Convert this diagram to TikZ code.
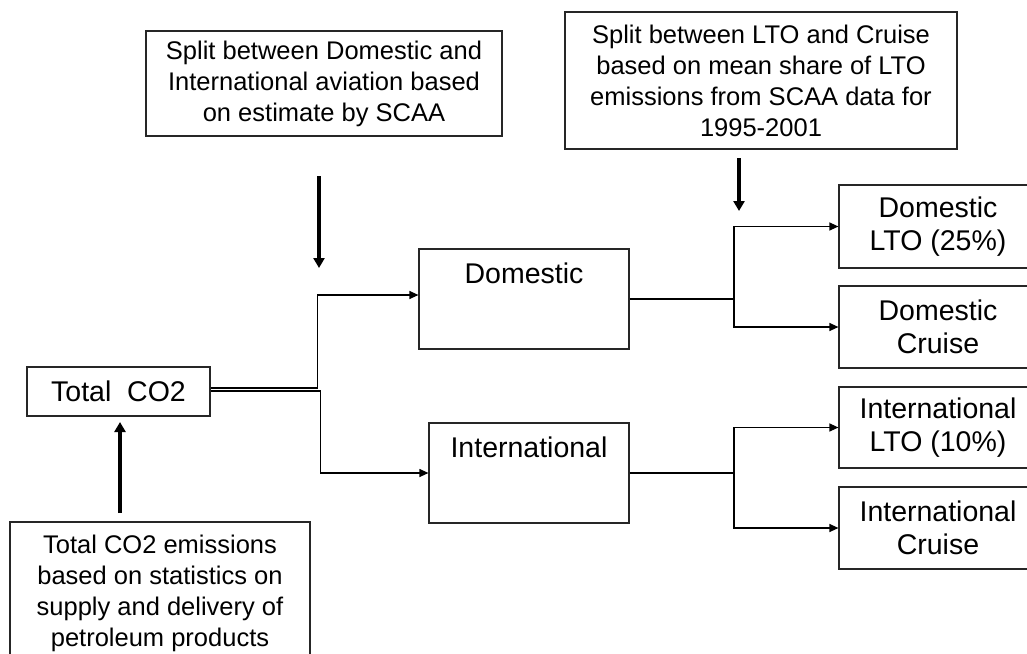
\documentclass[tikz,border=0pt]{standalone}
\usepackage{fontspec}
\setmainfont{Liberation Sans}
\usetikzlibrary{arrows.meta}
\begin{document}
\begin{tikzpicture}[x=1pt,y=-1pt,
  box/.style={draw=black!85, line width=1.2pt, rectangle, inner sep=0pt, align=center},
  notebox/.style={box, font=\fontsize{25.5}{31}\selectfont},
  mainbox/.style={box, font=\fontsize{28.5}{33}\selectfont},
  toplabel/.style={inner sep=0pt, font=\fontsize{28.5}{33}\selectfont},
  conn/.style={draw=black, line width=1.2pt},
  connarrow/.style={conn, -{Triangle[width=8pt,length=9pt]}},
  bigarrow/.style={draw=black, line width=3.3pt, -{Triangle[width=11pt,length=10pt]}}
]
\useasboundingbox (0,0) rectangle (1027,653);
\fill[white] (0,0) rectangle (1027,653);

% annotation boxes
\node[notebox, minimum width=356pt, minimum height=105pt] (note1) at (324,83.5)
  {Split between Domestic and\\International aviation based\\on estimate by SCAA};
\node[notebox, minimum width=392pt, minimum height=137pt] (note2) at (761,80.5)
  {Split between LTO and Cruise\\based on mean share of LTO\\emissions from SCAA data for\\1995-2001};
\node[notebox, minimum width=300pt, minimum height=143pt] (note3) at (160,593.5)
  {Total CO2 emissions\\based on statistics on\\supply and delivery of\\petroleum products};

% main boxes
\node[mainbox, minimum width=183pt, minimum height=49pt] (tot) at (118.5,391.5) {Total~~CO2};
\node[mainbox, minimum width=210pt, minimum height=100pt,
  label={[toplabel, name=domlbl, anchor=north, yshift=-14pt]north:Domestic}] (dom) at (524,299) {};
\node[mainbox, minimum width=200pt, minimum height=100pt,
  label={[toplabel, name=intlbl, anchor=north, yshift=-14pt]north:International}] (int) at (529,473) {};

\node[mainbox, minimum width=198pt, minimum height=83pt] (dlto) at (938,226.5) {Domestic\\LTO (25\%)};
\node[mainbox, minimum width=198pt, minimum height=82pt] (dcru) at (938,327) {Domestic\\Cruise};
\node[mainbox, minimum width=198pt, minimum height=81pt] (ilto) at (938,427.5) {International\\LTO (10\%)};
\node[mainbox, minimum width=198pt, minimum height=82pt] (icru) at (938,528) {International\\Cruise};

% split from Total CO2 (double line)
\draw[connarrow] ([yshift=3.5pt]tot.east) -- ++(107,0) |- ([yshift=4pt]dom.west);
\draw[connarrow] ([yshift=0.5pt]tot.east) -- ++(110,0) |- (int.west);

% branches to LTO / Cruise
\coordinate (dj) at (734,299);
\coordinate (ij) at (734,473);
\draw[conn] (dom.east) -- (dj);
\draw[connarrow] (dj) |- (dlto.west);
\draw[connarrow] (dj) |- (dcru.west);
\draw[conn] (int.east) -- (ij);
\draw[connarrow] (ij) |- (ilto.west);
\draw[connarrow] (ij) |- (icru.west);

% thick indicator arrows
\coordinate (a1s) at (319,176);
\coordinate (a1e) at (319,268);
\coordinate (a2s) at (739,158);
\coordinate (a2e) at (739,211);
\coordinate (a3s) at (120,513);
\coordinate (a3e) at (120,422);
\draw[bigarrow] (a1s) -- (a1e);
\draw[bigarrow] (a2s) -- (a2e);
\draw[bigarrow] (a3s) -- (a3e);
\end{tikzpicture}
\end{document}
